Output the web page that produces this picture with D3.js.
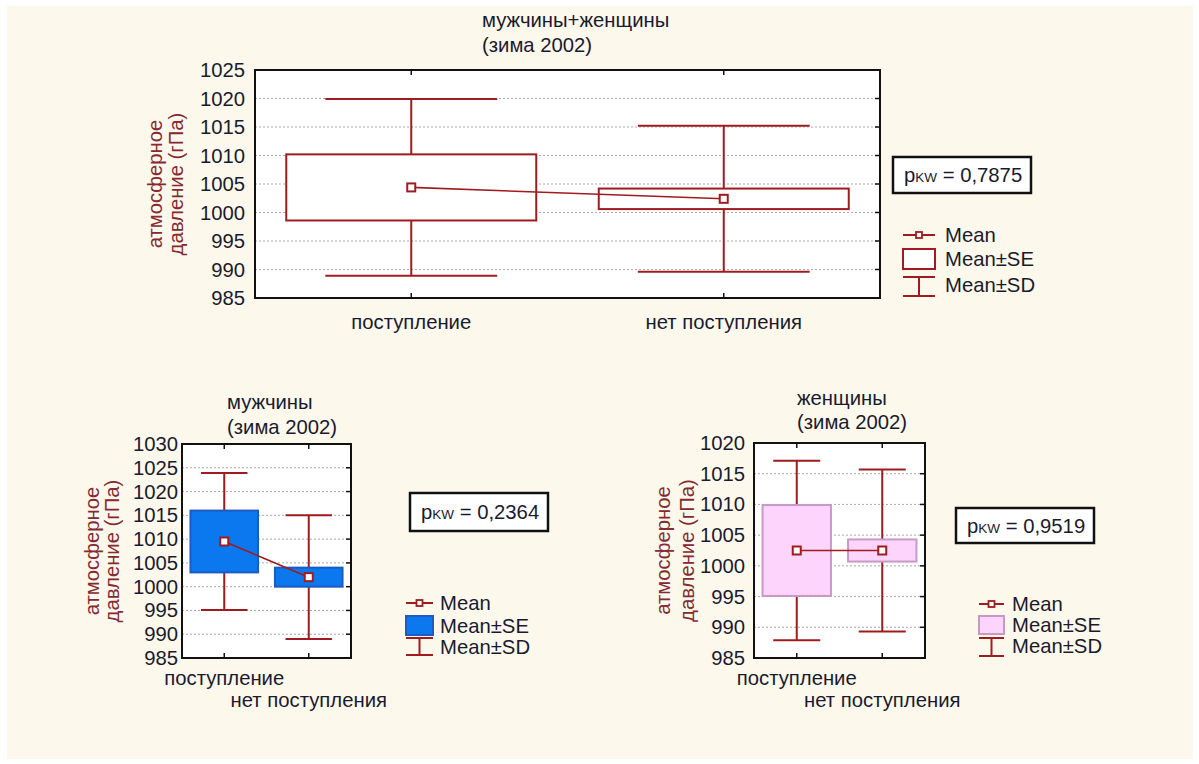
<!DOCTYPE html>
<html>
<head>
<meta charset="utf-8">
<script src="https://cdn.jsdelivr.net/npm/d3@7"></script>
<style>
  html, body { margin: 0; padding: 0; background: #ffffff; }
  svg { display: block; font-family: "Liberation Sans", Arial, sans-serif; }
</style>
</head>
<body>
<svg id="chart" width="1199" height="764"></svg>
<script>
// Groups compared in every panel
const categories = ["поступление", "нет поступления"];

// Men + women
const allMean = [1004.4, 1002.4];
const allSE = [5.8, 1.8];
const allSD = [15.5, 12.8];

// Men
const menMean = [1009.5, 1002.0];
const menSE = [6.5, 2.0];
const menSD = [14.4, 13.0];

// Women
const womenMean = [1002.5, 1002.5];
const womenSE = [7.4, 1.8];
const womenSD = [14.6, 13.2];

// Y tick labels
const ticksAll = [985, 990, 995, 1000, 1005, 1010, 1015, 1020, 1025];
const ticksMen = [985, 990, 995, 1000, 1005, 1010, 1015, 1020, 1025, 1030];
const ticksWomen = [985, 990, 995, 1000, 1005, 1010, 1015, 1020];

// Kruskal–Wallis p-values
const pAll = "0,7875";
const pMen = "0,2364";
const pWomen = "0,9519";

const titleAll = ["мужчины+женщины", "(зима 2002)"];
const titleMen = ["мужчины", "(зима 2002)"];
const titleWomen = ["женщины", "(зима 2002)"];
const yTitle = ["атмосферное", "давление (гПа)"];
const legendLabels = ["Mean", "Mean±SE", "Mean±SD"];

const RED = "#9e1c20";
const TEXT = "#1a1a2e";
const YTITLE = "#832a32";
const FONT = 20.3;

const svg = d3.select("#chart");

// page background
svg.append("rect").attr("x", 7).attr("y", 6).attr("width", 1186).attr("height", 753)
  .attr("fill", "#fdf8ec");

function panel(cfg) {
  const g = svg.append("g");
  const y = d3.scaleLinear().domain(cfg.domain).range([cfg.y1, cfg.y0]);
  const x = d3.scalePoint().domain(categories).range([cfg.x0, cfg.x1]).padding(0.5);
  const step = x.step();
  const rows = categories.map((c, i) => ({ c, m: cfg.mean[i], se: cfg.se[i], sd: cfg.sd[i] }));

  // plot area
  g.append("rect").attr("x", cfg.x0).attr("y", cfg.y0)
    .attr("width", cfg.x1 - cfg.x0).attr("height", cfg.y1 - cfg.y0).attr("fill", "#ffffff");

  // dashed grid
  g.selectAll(".grid").data(cfg.ticks.slice(1, -1)).join("line")
    .attr("x1", cfg.x0).attr("x2", cfg.x1)
    .attr("y1", d => y(d)).attr("y2", d => y(d))
    .attr("stroke", "#a9a9a9").attr("stroke-width", 1).attr("stroke-dasharray", "2,2");

  // SD whiskers (outside the SE box)
  const wh = g.append("g").attr("stroke", RED).attr("stroke-width", 2).attr("fill", "none");
  rows.forEach(r => {
    const cx = x(r.c);
    wh.append("line").attr("x1", cx).attr("x2", cx).attr("y1", y(r.m + r.sd)).attr("y2", y(r.m + r.se));
    wh.append("line").attr("x1", cx).attr("x2", cx).attr("y1", y(r.m - r.se)).attr("y2", y(r.m - r.sd));
    [r.m + r.sd, r.m - r.sd].forEach(v => {
      wh.append("line").attr("x1", cx - step * 0.275).attr("x2", cx + step * 0.275)
        .attr("y1", y(v)).attr("y2", y(v));
    });
  });

  // SE boxes
  g.selectAll(".se").data(rows).join("rect")
    .attr("x", d => x(d.c) - step * 0.4).attr("width", step * 0.8)
    .attr("y", d => y(d.m + d.se)).attr("height", d => y(d.m - d.se) - y(d.m + d.se))
    .attr("fill", cfg.fill).attr("stroke", cfg.stroke).attr("stroke-width", 2);

  // line through the means
  g.append("path").datum(rows)
    .attr("d", d3.line().x(d => x(d.c)).y(d => y(d.m)))
    .attr("fill", "none").attr("stroke", RED).attr("stroke-width", 1.6);

  g.selectAll(".mean").data(rows).join("rect")
    .attr("x", d => x(d.c) - 4).attr("y", d => y(d.m) - 4).attr("width", 8).attr("height", 8)
    .attr("fill", "#ffffff").attr("stroke", RED).attr("stroke-width", 2);

  // frame
  g.append("rect").attr("x", cfg.x0).attr("y", cfg.y0)
    .attr("width", cfg.x1 - cfg.x0).attr("height", cfg.y1 - cfg.y0)
    .attr("fill", "none").attr("stroke", "#111").attr("stroke-width", 2);

  // inner tick marks
  const tk = g.append("g").attr("stroke", "#111").attr("stroke-width", 1.5);
  cfg.ticks.slice(1, -1).forEach(v => {
    tk.append("line").attr("x1", cfg.x1).attr("x2", cfg.x1 - 5).attr("y1", y(v)).attr("y2", y(v));
  });
  categories.forEach(c => {
    tk.append("line").attr("x1", x(c)).attr("x2", x(c)).attr("y1", cfg.y0).attr("y2", cfg.y0 + 5);
    tk.append("line").attr("x1", x(c)).attr("x2", x(c)).attr("y1", cfg.y1).attr("y2", cfg.y1 - 5);
  });

  // y axis labels
  const ax = g.append("g").attr("transform", `translate(${cfg.x0},0)`)
    .call(d3.axisLeft(y).tickValues(cfg.ticks).tickSize(0).tickPadding(cfg.tickPad).tickFormat(d3.format("d")));
  ax.select(".domain").remove();
  ax.selectAll("text").attr("font-size", FONT).attr("fill", TEXT)
    .attr("font-family", "'Liberation Sans', Arial, sans-serif");

  // category labels
  categories.forEach((c, i) => {
    g.append("text").attr("x", x(c)).attr("y", cfg.catY[i]).attr("text-anchor", "middle")
      .attr("dominant-baseline", "central").attr("font-size", FONT).attr("fill", TEXT).text(c);
  });

  // title
  cfg.title.forEach((t, i) => {
    g.append("text").attr("x", cfg.titleX).attr("y", cfg.titleY[i])
      .attr("dominant-baseline", "central").attr("font-size", FONT).attr("fill", TEXT).text(t);
  });

  // y axis title
  const yc = (cfg.y0 + cfg.y1) / 2;
  yTitle.forEach((t, i) => {
    g.append("text").attr("transform", `translate(${cfg.yTitleX[i]},${yc}) rotate(-90)`)
      .attr("text-anchor", "middle").attr("dominant-baseline", "central")
      .attr("font-size", FONT).attr("fill", YTITLE).text(t);
  });

  // p-value box
  const pb = cfg.pBox;
  g.append("rect").attr("x", pb[0]).attr("y", pb[1]).attr("width", pb[2]).attr("height", pb[3])
    .attr("fill", "#ffffff").attr("stroke", "#111").attr("stroke-width", 2.5);
  const pt = g.append("text").attr("x", pb[0] + 11).attr("y", pb[1] + pb[3] / 2)
    .attr("dominant-baseline", "central").attr("font-size", FONT).attr("fill", TEXT);
  pt.append("tspan").text("p");
  pt.append("tspan").attr("font-size", 13.5).attr("dy", 2).text("KW");
  pt.append("tspan").attr("dy", -2).text(" = " + cfg.p);

  // legend
  const L = cfg.legend;
  const lx0 = L.x, lx1 = L.x + L.w, lmx = (lx0 + lx1) / 2;
  const lg = g.append("g");
  lg.append("line").attr("x1", lx0).attr("x2", lx1).attr("y1", L.rows[0]).attr("y2", L.rows[0])
    .attr("stroke", RED).attr("stroke-width", 2);
  lg.append("rect").attr("x", lmx - 3).attr("y", L.rows[0] - 3).attr("width", 6).attr("height", 6)
    .attr("fill", "#fff").attr("stroke", RED).attr("stroke-width", 1.8);
  lg.append("rect").attr("x", lx0).attr("y", L.se[0]).attr("width", L.w).attr("height", L.se[1] - L.se[0])
    .attr("fill", cfg.fill).attr("stroke", cfg.stroke).attr("stroke-width", 2);
  lg.append("line").attr("x1", lx0).attr("x2", lx1).attr("y1", L.sd[0]).attr("y2", L.sd[0]).attr("stroke", RED).attr("stroke-width", 2);
  lg.append("line").attr("x1", lx0).attr("x2", lx1).attr("y1", L.sd[1]).attr("y2", L.sd[1]).attr("stroke", RED).attr("stroke-width", 2);
  lg.append("line").attr("x1", lmx).attr("x2", lmx).attr("y1", L.sd[0]).attr("y2", L.sd[1]).attr("stroke", RED).attr("stroke-width", 2);
  legendLabels.forEach((t, i) => {
    lg.append("text").attr("x", L.tx).attr("y", L.rows[i]).attr("dominant-baseline", "central")
      .attr("font-size", FONT).attr("fill", TEXT).text(t);
  });
}

panel({
  x0: 255, x1: 880, y0: 70, y1: 298, domain: [985, 1025], ticks: ticksAll, tickPad: 10,
  mean: allMean, se: allSE, sd: allSD, fill: "#ffffff", stroke: RED,
  catY: [322, 322], title: titleAll, titleX: 482, titleY: [20, 45], yTitleX: [155, 176],
  pBox: [893, 157, 138, 36], p: pAll,
  legend: { x: 903, w: 32, tx: 945, rows: [235, 259, 285], se: [249, 269], sd: [277, 296] }
});

panel({
  x0: 182, x1: 351, y0: 444, y1: 658, domain: [985, 1030], ticks: ticksMen, tickPad: 4,
  mean: menMean, se: menSE, sd: menSD, fill: "#0b78ef", stroke: "#1c5cc0",
  catY: [678, 700], title: titleMen, titleX: 227, titleY: [402, 427], yTitleX: [92, 112],
  pBox: [410, 493, 138, 38], p: pMen,
  legend: { x: 406, w: 27, tx: 440, rows: [603, 626, 647], se: [616, 635], sd: [638, 655] }
});

panel({
  x0: 754, x1: 925, y0: 443, y1: 658, domain: [985, 1020], ticks: ticksWomen, tickPad: 9,
  mean: womenMean, se: womenSE, sd: womenSD, fill: "#fdd4fb", stroke: "#c79ac6",
  catY: [678, 700], title: titleWomen, titleX: 797, titleY: [398, 422], yTitleX: [663, 687],
  pBox: [956, 508, 138, 35], p: pWomen,
  legend: { x: 979, w: 25, tx: 1012, rows: [604, 625, 646], se: [616, 634], sd: [638, 656] }
});
</script>
</body>
</html>
